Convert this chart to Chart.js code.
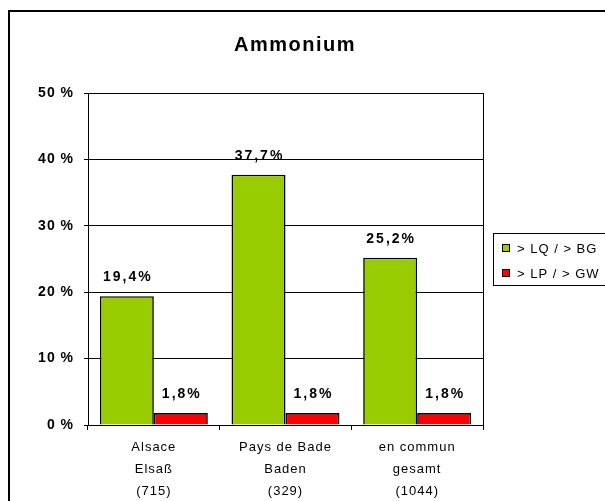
<!DOCTYPE html>
<html>
<head>
<meta charset="utf-8">
<script src="https://cdn.jsdelivr.net/npm/chart.js@4"></script>
<style>
  html, body { margin: 0; padding: 0; background: #fff; overflow: hidden; }
  #wrap { position: relative; width: 605px; height: 501px; }
  #frame { position: absolute; left: 8px; top: 10px; width: 700px; height: 600px; border: 2px solid #000; }
  canvas { position: absolute; left: 0; top: 0; }
</style>
</head>
<body>
<div id="wrap">
  <div id="frame"></div>
  <canvas id="chart" width="605" height="501"></canvas>
</div>
<script>
const categories = [
  ["Alsace", "Elsaß", "(715)"],
  ["Pays de Bade", "Baden", "(329)"],
  ["en commun", "gesamt", "(1044)"],
];
const seriesNames = ["> LQ / > BG", "> LP / > GW"];
const lqValues = [19.4, 37.7, 25.2];
const lpValues = [1.8, 1.8, 1.8];
const yTicks = [0, 10, 20, 30, 40, 50];
const chartTitle = "Ammonium";

const FONT = "'Liberation Sans', Arial, sans-serif";
const colors = ["#99cc00", "#ff0000"];

const fmt = (v) => v.toFixed(1).replace(".", ",") + "%";

// letter spacing like the original (Chart.js has no option for it)
const spacing = {
  id: "spacing",
  beforeUpdate(chart) { chart.ctx.letterSpacing = "1px"; },
  beforeDraw(chart) { chart.ctx.letterSpacing = "1px"; },
};

// right border of the plot area
const plotBorder = {
  id: "plotBorder",
  afterDraw(chart) {
    const { ctx, chartArea } = chart;
    ctx.save();
    ctx.strokeStyle = "#000";
    ctx.lineWidth = 1;
    ctx.beginPath();
    ctx.moveTo(chartArea.right + 0.5, chartArea.top);
    ctx.lineTo(chartArea.right + 0.5, chartArea.bottom);
    ctx.stroke();
    ctx.restore();
  },
};

// value labels above bars
const valueLabels = {
  id: "valueLabels",
  afterDatasetsDraw(chart) {
    const { ctx } = chart;
    ctx.save();
    ctx.font = "bold 14px " + FONT;
    ctx.letterSpacing = "2px";
    ctx.fillStyle = "#000";
    ctx.textAlign = "center";
    ctx.textBaseline = "middle";
    chart.data.datasets.forEach((ds, i) => {
      chart.getDatasetMeta(i).data.forEach((bar, j) => {
        ctx.fillText(fmt(ds.data[j]), bar.x + 1, bar.y - 19);
      });
    });
    ctx.restore();
  },
};

// title and boxed legend
const titleLegend = {
  id: "titleLegend",
  afterDraw(chart) {
    const { ctx } = chart;
    ctx.save();
    ctx.fillStyle = "#000";
    ctx.font = "bold 20px " + FONT;
    ctx.letterSpacing = "1.5px";
    ctx.textAlign = "center";
    ctx.textBaseline = "middle";
    ctx.fillText(chartTitle, 295, 45);

    ctx.letterSpacing = "1px";
    ctx.strokeStyle = "#000";
    ctx.lineWidth = 1;
    ctx.strokeRect(493.5, 233.5, 140, 52);
    ctx.font = "13px " + FONT;
    ctx.textAlign = "left";
    chart.data.datasets.forEach((ds, i) => {
      const y = 248 + i * 25;
      ctx.fillStyle = ds.backgroundColor;
      ctx.fillRect(502, y - 4, 8, 8);
      ctx.strokeRect(502.5, y - 3.5, 7, 7);
      ctx.fillStyle = "#000";
      ctx.fillText(ds.label, 517, y + 1);
    });
    ctx.restore();
  },
};

new Chart(document.getElementById("chart"), {
  type: "bar",
  data: {
    labels: categories,
    datasets: [
      { label: seriesNames[0], data: lqValues, backgroundColor: colors[0] },
      { label: seriesNames[1], data: lpValues, backgroundColor: colors[1] },
    ],
  },
  options: {
    responsive: false,
    animation: false,
    devicePixelRatio: 1,
    layout: { padding: { left: 0, right: 122, top: 93, bottom: 0 } },
    datasets: {
      bar: {
        categoryPercentage: 0.82,
        barPercentage: 1,
        borderColor: "#000",
        borderWidth: 1.6,
      },
    },
    plugins: {
      legend: { display: false },
      title: { display: false },
      tooltip: { enabled: false },
    },
    scales: {
      x: {
        offset: true,
        afterFit: (s) => { s.height = 76; },
        grid: { offset: true, drawOnChartArea: false, color: "#000", tickLength: 5 },
        border: { color: "#000", width: 1 },
        ticks: {
          color: "#000",
          padding: 6,
          font: { family: FONT, size: 13, lineHeight: 1.69 },
          maxRotation: 0,
        },
      },
      y: {
        min: yTicks[0],
        max: yTicks[yTicks.length - 1],
        afterFit: (s) => { s.width = 88; },
        afterBuildTicks: (s) => { s.ticks = yTicks.map((v) => ({ value: v })); },
        grid: { color: "#000", lineWidth: 1, tickLength: 4 },
        border: { color: "#000", width: 1 },
        ticks: {
          color: "#000",
          padding: 10,
          font: { family: FONT, size: 14, weight: "bold" },
          callback: (v) => v + " %",
        },
      },
    },
  },
  plugins: [spacing, plotBorder, valueLabels, titleLegend],
});
</script>
</body>
</html>
